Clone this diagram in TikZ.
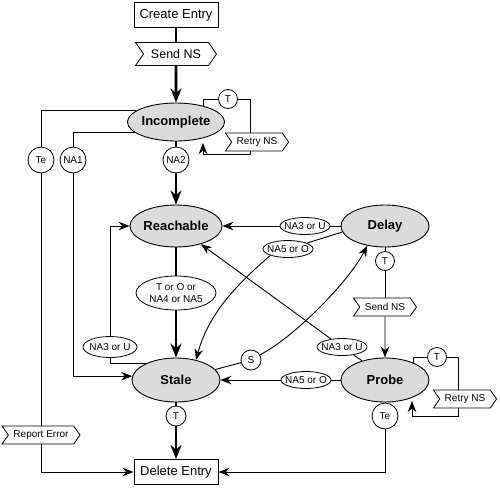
\documentclass[tikz,border=0pt]{standalone}
\usepackage{fontspec}
\setmainfont{Liberation Sans}
\usetikzlibrary{arrows.meta, shapes.geometric, shapes.symbols}

\tikzset{
  stato/.style={ellipse, draw, line width=0.9pt, fill=black!14, font=\fontsize{13}{15}\selectfont\bfseries, minimum width=88, minimum height=42, inner sep=0pt},
  voce/.style={rectangle, draw, line width=0.9pt, font=\fontsize{13}{15}\selectfont, minimum width=84, minimum height=25, inner sep=0pt},
  azione/.style={signal, signal to=east, signal from=west, signal pointer angle=110, draw, fill=white, line width=0.8pt, font=\fontsize{10}{12}\selectfont, minimum height=18, inner xsep=5pt, inner ysep=0pt},
  cerchio/.style={circle, draw, fill=white, line width=0.8pt, font=\fontsize{10}{12}\selectfont, minimum size=26, inner sep=0pt},
  cond/.style={ellipse, draw, fill=white, line width=0.8pt, font=\fontsize{10}{12}\selectfont, minimum width=50, minimum height=17, inner xsep=-5pt, inner ysep=0pt},
  filo/.style={line width=0.9pt},
  freccia/.style={line width=0.9pt, -{Stealth[length=11pt,width=8.5pt]}},
  grosso/.style={line width=2.6pt},
  grossafreccia/.style={line width=2.6pt, -{Stealth[length=14pt,width=11pt]}},
}

\begin{document}
\begin{tikzpicture}[x=1pt, y=-1pt]
    \useasboundingbox (0,0) rectangle (500,488);

    % stati
    \node[voce] (create) at (176,15) {Create Entry};
    \node[azione, font=\fontsize{12.5}{14}\selectfont, minimum height=23, minimum width=81] (sendA) at (176,54) {Send NS};
    \node[stato, minimum height=38] (inc) at (176,122) {Incomplete};
    \node[stato] (reach) at (176,226) {Reachable};
    \node[stato] (delay) at (385,226) {Delay};
    \node[stato, minimum height=44] (stale) at (176,380) {Stale};
    \node[stato, minimum height=44] (probe) at (385,380) {Probe};
    \node[voce] (del) at (176,472) {Delete Entry};

    % etichette
    \node[cerchio] (teI) at (41,160) {Te};
    \node[cerchio] (naI) at (73,160) {NA1};
    \node[cerchio] (naII) at (176,160) {NA2};
    \node[cerchio, minimum size=19] (tI) at (228,99) {T};
    \node[azione, minimum width=63] (retryI) at (257,142) {Retry NS};
    \node[azione, minimum width=78] (report) at (41,435) {Report Error};
    \node[cond, minimum width=54, minimum height=21] (naIIIs) at (110,347) {NA3 or U};
    \node[cond, minimum width=80, minimum height=34, inner xsep=0pt, align=center, font=\fontsize{10}{11.5}\selectfont] (toor) at (176,293) {T or O or\\NA4 or NA5};
    \node[cond] (naIIId) at (305,226) {NA3 or U};
    \node[cond] (naVd) at (288,249) {NA5 or O};
    \node[cerchio, minimum size=19] (tD) at (385,261) {T};
    \node[azione, minimum width=63] (sendB) at (385,307) {Send NS};
    \node[cerchio, minimum size=20] (s) at (251,360) {S};
    \node[cond] (naIIIp) at (342,347) {NA3 or U};
    \node[cond] (naVp) at (306,380) {NA5 or O};
    \node[cerchio, minimum size=19] (tP) at (437,357) {T};
    \node[azione, minimum width=63] (retryP) at (465,399) {Retry NS};
    \node[cerchio] (teP) at (385,416) {Te};
    \node[cerchio, minimum size=20] (tS) at (176,416) {T};

    % angoli dei cicli
    \coordinate (ie) at (203,107);
    \coordinate (ib) at (250,99);
    \coordinate (ic) at (250,154);
    \coordinate (id) at (203,154);
    \coordinate (pe) at (413,363);
    \coordinate (pb) at (458,357);
    \coordinate (pc) at (458,416);
    \coordinate (pd) at (412,416);

    % percorso principale
    \draw[grosso] (create) -- (sendA);
    \draw[grossafreccia] (sendA) -- (inc);
    \draw[grosso] (inc) -- (naII);
    \draw[grossafreccia] (naII) -- (reach);
    \draw[grosso] (reach) -- (toor);
    \draw[grossafreccia] (toor) -- (stale);
    \draw[grosso] (stale) -- (tS);
    \draw[grossafreccia] (tS) -- (del);

    % incomplete
    \draw[filo] (ie) |- (tI) -- (ib) -- (ib |- retryI.north);
    \draw[freccia] (ib |- retryI.south) -- (ic) -- (id) -- ++(0,-11);
    \draw[filo] (inc.164) -| (teI);
    \draw[filo] (teI) -- (report);
    \draw[freccia] (report) |- (del);
    \draw[filo] (inc.195) -| (naI);
    \draw[freccia] (naI) |- (stale.175);

    % stale
    \draw[filo] (stale.150) -| (naIIIs);
    \draw[freccia] (naIIIs) |- (reach);
    \draw[filo] (stale.15) -- (s);
    \draw[freccia] (s.30) .. controls +(35,-18) and +(-18,35) .. (delay.228);

    % delay
    \draw[filo] (delay) -- (naIIId);
    \draw[freccia] (naIIId) -- (reach);
    \draw[filo] (delay.188) -- (naVd);
    \draw[freccia] (naVd.200) .. controls +(-35,30) and +(12,-45) .. (stale.45);
    \draw[filo] (delay) -- (tD);
    \draw[filo] (tD) -- (sendB);
    \draw[freccia] (sendB) -- (probe);

    % probe
    \draw[filo] (probe.140) -- (naIIIp);
    \draw[freccia] (naIIIp) -- (reach);
    \draw[filo] (probe) -- (naVp);
    \draw[freccia] (naVp) -- (stale);
    \draw[filo] (pe) |- (tP) -- (pb) -- (pb |- retryP.north);
    \draw[freccia] (pb |- retryP.south) -- (pc) -- (pd) -- ++(0,-15);
    \draw[filo] (probe) -- (teP);
    \draw[freccia] (teP) |- (del);
\end{tikzpicture}
\end{document}
